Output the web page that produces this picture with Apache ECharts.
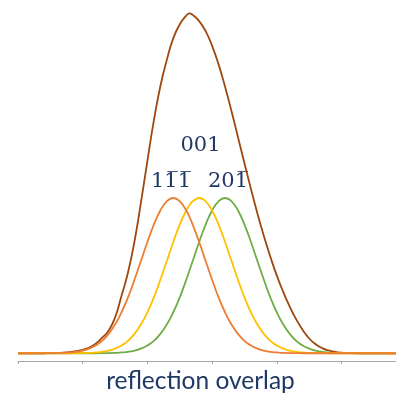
<!DOCTYPE html>
<html>
<head>
<meta charset="utf-8">
<script src="https://cdn.jsdelivr.net/npm/echarts@6/dist/echarts.min.js"></script>
<style>
html,body{margin:0;padding:0;background:#fff;}
#chart{width:396px;height:396px;}
</style>
</head>
<body>
<div id="chart"></div>
<script>
// x positions (axis units, one tick per unit)
var xs = [0.0,0.1,0.2,0.3,0.4,0.5,0.6,0.7,0.8,0.9,1.0,1.1,1.2,1.3,1.4,1.5,1.6,1.7,1.8,1.9,2.0,2.1,2.2,2.3,2.4,2.5,2.6,2.65,2.7,2.8,2.9,3.0,3.1,3.2,3.3,3.4,3.5,3.6,3.7,3.8,3.9,4.0,4.1,4.2,4.3,4.4,4.5,4.6,4.7,4.8,4.9,5.0,5.1,5.2,5.3,5.4,5.5,5.6,5.7,5.8,5.9,6.0];
var tickValues = [0,1,2,3,4,5];

// reflection 1-1-1 (orange)
var refl111 = [0,0,0,0,0,0.001,0.001,0.002,0.005,0.009,0.017,0.030,0.050,0.080,0.125,0.185,0.264,0.360,0.473,0.594,0.717,0.829,0.920,0.979,1.000,0.979,0.920,0.878,0.829,0.717,0.594,0.473,0.360,0.264,0.185,0.125,0.080,0.050,0.030,0.017,0.009,0.005,0.002,0.001,0.001,0,0,0,0,0,0,0,0,0,0,0,0,0,0,0,0,0];
// reflection 001 (yellow)
var refl001 = [0,0,0,0,0,0,0,0,0,0.001,0.001,0.002,0.005,0.009,0.017,0.030,0.050,0.080,0.125,0.185,0.264,0.360,0.473,0.594,0.717,0.829,0.920,0.954,0.979,1.000,0.979,0.920,0.829,0.717,0.594,0.473,0.360,0.264,0.185,0.125,0.080,0.050,0.030,0.017,0.009,0.005,0.002,0.001,0.001,0,0,0,0,0,0,0,0,0,0,0,0,0];
// reflection 20-1 (green)
var refl201 = [0,0,0,0,0,0,0,0,0,0,0,0,0,0.001,0.001,0.002,0.005,0.009,0.017,0.030,0.050,0.080,0.125,0.185,0.264,0.360,0.473,0.533,0.594,0.717,0.829,0.920,0.979,1.000,0.979,0.920,0.829,0.717,0.594,0.473,0.360,0.264,0.185,0.125,0.080,0.050,0.030,0.017,0.009,0.005,0.002,0.001,0.001,0,0,0,0,0,0,0,0,0];
// overlapped envelope (brown)
var overlap = [0,0,0,0,0,0.001,0.002,0.004,0.007,0.013,0.022,0.037,0.062,0.100,0.145,0.230,0.370,0.520,0.720,0.970,1.240,1.500,1.720,1.890,2.030,2.120,2.175,2.190,2.180,2.140,2.075,1.980,1.861,1.717,1.559,1.392,1.224,1.059,0.901,0.755,0.622,0.500,0.395,0.300,0.218,0.150,0.095,0.058,0.033,0.018,0.009,0.004,0.002,0.001,0,0,0,0,0,0,0,0];

var labels = ['001', '11\u03051\u0305', '201\u0305'];
var axisTitle = 'reflection overlap';

function pairs(ys){ return xs.map(function(x,i){ return [x, ys[i]]; }); }

var chart = echarts.init(document.getElementById('chart'), null, {renderer:'canvas'});
var lineCommon = { type:'line', smooth:0.5, showSymbol:false, symbol:'none', animation:false };
var labelFont = '21px "DejaVu Serif"';
var navy = '#1F3864';
chart.setOption({
  animation:false,
  grid:{ left:18, right:0, top:4, bottom:35 },
  xAxis:{
    type:'value', min:0, max:5.842,
    axisLine:{ onZero:false, lineStyle:{ color:'#A6A6A6', width:1 } },
    axisTick:{ show:true, length:3, customValues:tickValues, lineStyle:{ color:'#A6A6A6' } },
    axisLabel:{ show:false, customValues:tickValues },
    splitLine:{ show:false }
  },
  yAxis:{ type:'value', min:-0.05, max:2.25, show:false, splitLine:{show:false} },
  series:[
    Object.assign({}, lineCommon, { name:'overlap', data:pairs(overlap), lineStyle:{ color:'#9E480E', width:1.8 }, itemStyle:{color:'#9E480E'} }),
    Object.assign({}, lineCommon, { name:'20-1', data:pairs(refl201), lineStyle:{ color:'#70AD47', width:1.8 }, itemStyle:{color:'#70AD47'} }),
    Object.assign({}, lineCommon, { name:'001', data:pairs(refl001), lineStyle:{ color:'#FFC000', width:1.8 }, itemStyle:{color:'#FFC000'} }),
    Object.assign({}, lineCommon, { name:'1-1-1', data:pairs(refl111), lineStyle:{ color:'#ED7D31', width:1.8 }, itemStyle:{color:'#ED7D31'} })
  ],
  graphic:[
    { type:'text', x:200.5, y:146, style:{ text:labels[0], font:labelFont, fill:navy, textAlign:'center', textVerticalAlign:'middle' } },
    { type:'text', x:171, y:182, style:{ text:labels[1], font:labelFont, fill:navy, textAlign:'center', textVerticalAlign:'middle' } },
    { type:'text', x:228, y:182, style:{ text:labels[2], font:labelFont, fill:navy, textAlign:'center', textVerticalAlign:'middle' } },
    { type:'text', x:200.5, y:381, style:{ text:axisTitle, font:'24.5px Lato', fill:navy, textAlign:'center', textVerticalAlign:'middle' } }
  ]
});
</script>
</body>
</html>
